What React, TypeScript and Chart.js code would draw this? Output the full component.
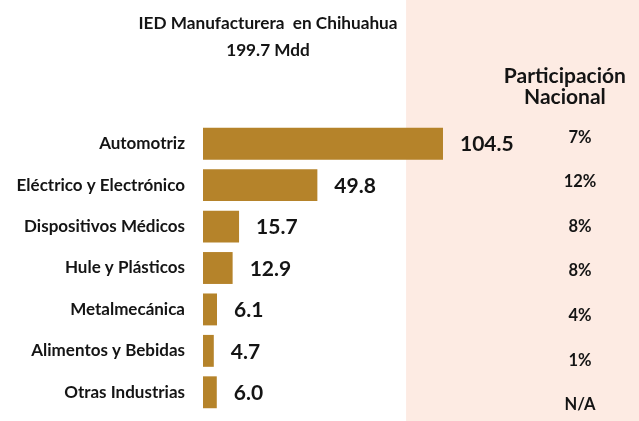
import React, { useEffect, useRef } from "react";
import { Chart, registerables } from "chart.js";

Chart.register(...registerables);

const titleLines = ["IED Manufacturera  en Chihuahua", "199.7 Mdd"];
const categories = [
  "Automotriz",
  "Eléctrico y Electrónico",
  "Dispositivos Médicos",
  "Hule y Plásticos",
  "Metalmecánica",
  "Alimentos y Bebidas",
  "Otras Industrias",
];
const values = [104.5, 49.8, 15.7, 12.9, 6.1, 4.7, 6.0];
const valueLabels = ["104.5", "49.8", "15.7", "12.9", "6.1", "4.7", "6.0"];
const shareHeader = ["Participación", "Nacional"];
const shareLabels = ["7%", "12%", "8%", "8%", "4%", "1%", "N/A"];

const FONT = "Lato, 'Open Sans', sans-serif";
const BAR = "#B5832A";
const PANEL = "#FDEBE3";
const TEXT = "#141414";

const panelPlugin = {
  id: "panel",
  beforeDraw(chart: any) {
    const ctx = chart.ctx;
    ctx.save();
    ctx.fillStyle = "#ffffff";
    ctx.fillRect(0, 0, chart.width, chart.height);
    const x0 = chart.width * 0.6355;
    ctx.fillStyle = PANEL;
    ctx.fillRect(x0, 0, chart.width - x0, chart.height);
    ctx.restore();
  },
};

const labelPlugin = {
  id: "labels",
  afterDatasetsDraw(chart: any) {
    const ctx = chart.ctx;
    const meta = chart.getDatasetMeta(0);
    const yScale = chart.scales.y;
    ctx.save();
    ctx.fillStyle = TEXT;
    // value labels
    ctx.font = `bold 21px ${FONT}`;
    ctx.textAlign = "left";
    ctx.textBaseline = "middle";
    meta.data.forEach((bar: any, i: number) => {
      ctx.fillText(valueLabels[i], bar.x + 17, bar.y + 1);
    });
    // header
    const colX = chart.width * 0.9077;
    const headX = chart.width * 0.884;
    ctx.font = `bold 21px ${FONT}`;
    ctx.textAlign = "center";
    ctx.fillText(shareHeader[0], headX, 76);
    ctx.fillText(shareHeader[1], headX, 97);
    // share column
    const y0 = yScale.getPixelForValue(0) - 6.5;
    const y1 = yScale.getPixelForValue(categories.length - 1) + 12.5;
    const step = (y1 - y0) / (shareLabels.length - 1);
    ctx.font = `bold 16.5px ${FONT}`;
    shareLabels.forEach((t, i) => {
      ctx.fillText(t, colX, y0 + step * i);
    });
    ctx.restore();
  },
};

export default function App() {
  const ref = useRef<HTMLCanvasElement>(null);
  useEffect(() => {
    const chart = new Chart(ref.current!, {
      type: "bar",
      data: {
        labels: categories,
        datasets: [
          {
            data: values,
            backgroundColor: BAR,
            borderWidth: 0,
            barPercentage: 0.77,
            categoryPercentage: 1,
          },
        ],
      },
      options: {
        indexAxis: "y",
        animation: false,
        responsive: false,
        devicePixelRatio: 1,
        layout: { padding: { top: 0, right: 103, bottom: 8, left: 0 } },
        plugins: {
          legend: { display: false },
          tooltip: { enabled: false },
          title: {
            display: true,
            text: titleLines,
            color: TEXT,
            font: { family: FONT, size: 17.2, weight: "bold", lineHeight: 1.57 },
            padding: { top: 10, bottom: 59 },
          },
        },
        scales: {
          x: { display: false, min: 0, max: 145 },
          y: {
            grid: { display: false, drawTicks: false },
            border: { display: false },
            ticks: {
              color: TEXT,
              padding: 18,
              font: { family: FONT, size: 17, weight: "bold" },
            },
            afterFit: (s: any) => {
              s.width = 203;
              s.paddingTop = 0;
              s.paddingBottom = 0;
            },
          },
        },
      },
      plugins: [panelPlugin, labelPlugin],
    });
    return () => chart.destroy();
  }, []);
  return (
    <div style={{ position: "absolute", left: 0, top: 0, width: 639, height: 421 }}>
      <canvas ref={ref} width={639} height={421} style={{ display: "block" }} />
    </div>
  );
}
